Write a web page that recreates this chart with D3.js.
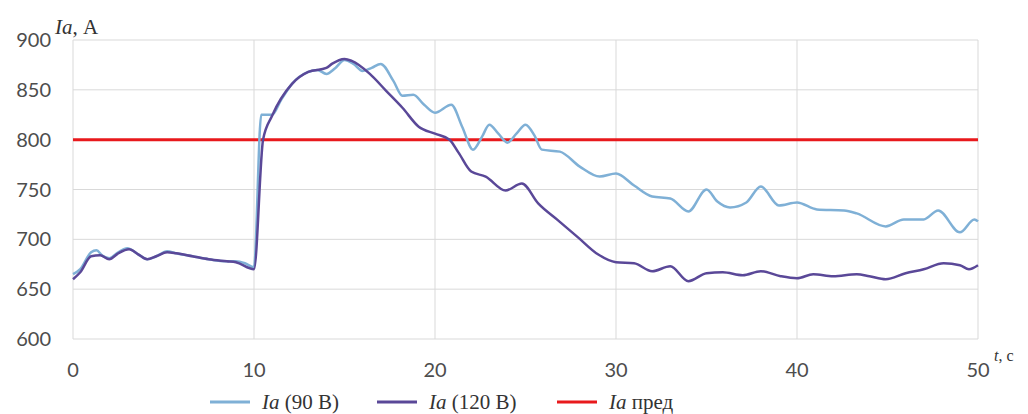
<!DOCTYPE html>
<html>
<head>
<meta charset="utf-8">
<script src="https://cdn.jsdelivr.net/npm/d3@7"></script>
<style>
  body { margin: 0; background: #fff; }
  text { font-family: Lato, "Liberation Sans", sans-serif; fill: #4d4d4d; }
  .serif { font-family: "Liberation Serif", "Times New Roman", serif; fill: #333; }
</style>
</head>
<body>
<div id="chart"></div>
<script>
// time (s) and current (A)
var t90 = [0, 0.4, 1.0, 1.3, 1.6, 2.0, 2.5, 3.0, 3.6, 4.1, 4.6, 5.2, 5.7, 6.6, 7.5, 8.5, 9.0, 9.5, 10.0,
  10.4, 11.0, 11.5, 12.1, 13.0, 13.5, 14.0, 14.5, 15.0, 15.5, 16.0, 16.5, 17.0, 17.7, 18.2, 18.8, 19.4,
  20.0, 20.9, 21.5, 22.1, 22.6, 23.0, 23.5, 24.0, 24.5, 25.0, 25.5, 25.9, 26.9, 28.0, 29.1, 30.0, 31.0,
  32.0, 33.0, 34.0, 35.0, 35.6, 36.3, 37.2, 38.0, 39.0, 40.0, 41.1, 42.6, 43.3, 44.9, 45.9, 47.0, 47.8,
  49.0, 49.8, 50];
var ia90 = [665, 670, 687, 689, 684, 681, 687, 691, 685, 680, 683, 688, 686, 683, 680, 678, 678, 676, 672,
  825, 825, 840, 856, 868, 870, 866, 872, 880, 876, 869, 872, 876, 859, 844, 845, 835,
  827, 835, 813, 790, 803, 815, 806, 797, 806, 815, 804, 790, 788, 773, 763, 766, 754,
  743, 741, 728, 750, 738, 732, 737, 753, 734, 737, 730, 729, 726, 713, 720, 720, 729,
  707, 720, 718];

var t120 = [0, 0.4, 1.0, 1.5, 2.0, 2.5, 3.1, 3.6, 4.1, 4.6, 5.2, 5.7, 6.6, 7.5, 8.5, 9.0, 10.0,
  10.5, 11.0, 12.1, 13.0, 14.0, 14.3, 15.0, 15.4, 16.4, 17.3, 18.2, 19.1, 20.0, 20.8, 21.3, 22.0,
  22.8, 23.9, 24.8, 25.7, 26.8, 27.9, 29.0, 30.0, 31.0, 32.0, 33.0, 34.0, 35.0, 35.9, 37.0, 38.0,
  39.1, 40.0, 40.9, 42.0, 43.3, 44.0, 44.9, 46.0, 47.0, 48.1, 49.0, 49.5, 50];
var ia120 = [660, 667, 683, 684, 680, 686, 690, 685, 680, 683, 687, 686, 683, 680, 678, 677, 670,
  800, 824, 856, 868, 872, 876, 881, 879, 866, 849, 832, 813, 806, 800, 787, 768,
  763, 749, 756, 736, 719, 702, 685, 677, 676, 668, 673, 658, 666, 667, 664, 668,
  663, 661, 665, 663, 665, 663, 660, 666, 670, 676, 674, 670, 674];

var iaLimit = 800;
var xTicks = [0, 10, 20, 30, 40, 50];
var yTicks = [600, 650, 700, 750, 800, 850, 900];
var legendNames = ["(90 В)", "(120 В)", "пред"];
var colors = ["#7fb0d6", "#5a4898", "#e8191c"];

var width = 1028, height = 414;
var margin = {left: 73, right: 50, top: 40, bottom: 75};

var svg = d3.select("#chart").append("svg")
  .attr("width", width).attr("height", height);

var x = d3.scaleLinear().domain([0, 50]).range([margin.left, width - margin.right]);
var y = d3.scaleLinear().domain([600, 900]).range([height - margin.bottom, margin.top]);

// grid
svg.append("g").selectAll("line.h").data(yTicks).enter().append("line")
  .attr("x1", x(0)).attr("x2", x(50))
  .attr("y1", d => y(d)).attr("y2", d => y(d))
  .attr("stroke", "#d9d9d9").attr("stroke-width", 1);
svg.append("g").selectAll("line.v").data(xTicks).enter().append("line")
  .attr("x1", d => x(d)).attr("x2", d => x(d))
  .attr("y1", y(600)).attr("y2", y(900))
  .attr("stroke", "#d9d9d9").attr("stroke-width", 1);

// tick labels
svg.append("g").selectAll("text").data(yTicks).enter().append("text")
  .attr("x", 51).attr("y", d => y(d)).attr("dy", "0.35em")
  .attr("text-anchor", "end").style("font-size", "20px")
  .text(d => d);
svg.append("g").selectAll("text").data(xTicks).enter().append("text")
  .attr("x", d => x(d)).attr("y", 377)
  .attr("text-anchor", "middle").style("font-size", "20px")
  .text(d => d);

// axis titles
var yt = svg.append("text").attr("class", "serif").attr("x", 55).attr("y", 34).style("font-size", "21px");
yt.append("tspan").style("font-style", "italic").text("Ia");
yt.append("tspan").text(", А");
var xt = svg.append("text").attr("class", "serif").attr("x", 994).attr("y", 361).style("font-size", "16px");
xt.append("tspan").style("font-style", "italic").text("t");
xt.append("tspan").text(", с");

var line = d3.line()
  .x(d => x(d[0])).y(d => y(d[1]))
  .curve(d3.curveMonotoneX);

// limit line
svg.append("line")
  .attr("x1", x(0)).attr("x2", x(50))
  .attr("y1", y(iaLimit)).attr("y2", y(iaLimit))
  .attr("stroke", colors[2]).attr("stroke-width", 3);

svg.append("path").datum(d3.zip(t90, ia90))
  .attr("d", line).attr("fill", "none")
  .attr("stroke", colors[0]).attr("stroke-width", 2.5);
svg.append("path").datum(d3.zip(t120, ia120))
  .attr("d", line).attr("fill", "none")
  .attr("stroke", colors[1]).attr("stroke-width", 2.5);

// legend
var legendX = [210, 377, 557];
var lg = svg.append("g").selectAll("g").data(legendNames).enter().append("g")
  .attr("transform", (d, i) => "translate(" + legendX[i] + ",402)");
lg.append("line").attr("x1", 0).attr("x2", 40)
  .attr("stroke", (d, i) => colors[i]).attr("stroke-width", 3);
var lt = lg.append("text").attr("class", "serif").attr("x", 52).attr("dy", "0.35em").style("font-size", "21px");
lt.append("tspan").style("font-style", "italic").text("Ia");
lt.append("tspan").text(d => " " + d);
</script>
</body>
</html>
